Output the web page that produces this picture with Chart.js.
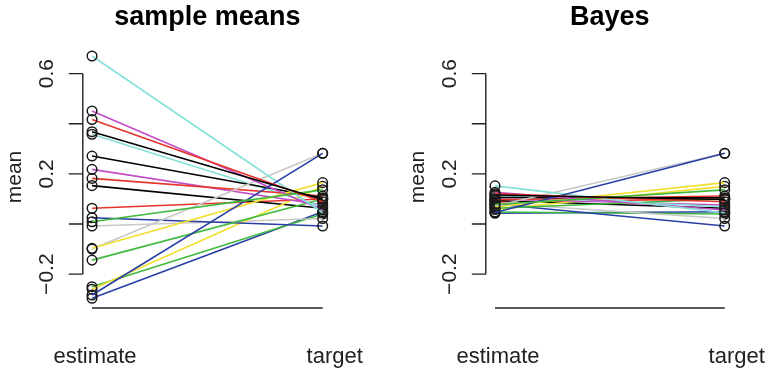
<!DOCTYPE html>
<html>
<head>
<meta charset="utf-8">
<script src="https://cdn.jsdelivr.net/npm/chart.js@4/dist/chart.umd.min.js"></script>
<style>
  html, body { margin: 0; padding: 0; background: #ffffff; }
  #wrap { position: relative; width: 769px; height: 375px; overflow: hidden; }
  canvas { position: absolute; top: 0; }
</style>
</head>
<body>
<div id="wrap">
  <canvas id="left" width="384" height="375" style="left:0px"></canvas>
  <canvas id="right" width="385" height="375" style="left:384px"></canvas>
</div>
<script>
// ---- data ----
const categories = ['estimate', 'target'];
const panelTitles = ['sample means', 'Bayes'];
const yAxisTitle = 'mean';
const yTicks = [-0.2, 0, 0.2, 0.4, 0.6];
const yTickLabels = ['\u22120.2', '', '0.2', '', '0.6'];
const seriesColors = ['#000000', '#e4342c', '#3fba3f', '#2a3fa6', '#86e0da', '#c24cc6', '#f0e030', '#c8c8c8'];

const sampleMeans = [0.368, 0.417, 0.009, -0.283, 0.670, 0.451, -0.097, -0.100, 0.271, 0.182,
                     -0.144, 0.025, 0.358, 0.218, -0.260, -0.008, 0.153, 0.063, -0.250, -0.296];
const bayesEstimates = [0.116, 0.120, 0.078, 0.046, 0.152, 0.126, 0.068, 0.072, 0.106, 0.097,
                        0.063, 0.080, 0.113, 0.100, 0.058, 0.083, 0.094, 0.088, 0.048, 0.043];
const targets = [0.098, 0.089, 0.136, 0.282, 0.045, 0.056, 0.165, 0.282, 0.105, 0.112,
                 0.100, -0.008, 0.069, 0.076, 0.150, 0.022, 0.063, 0.100, 0.040, 0.049];

// ---- drawing ----
function buildDatasets(est) {
  return est.map((v, i) => ({
    data: [{ x: 1, y: v }, { x: 2, y: targets[i] }],
    borderColor: seriesColors[i % seriesColors.length],
    borderWidth: 1.6,
    pointRadius: 4.8,
    pointHoverRadius: 4.8,
    pointBorderWidth: 1.5,
    pointBorderColor: '#1a1a1a',
    pointBackgroundColor: 'rgba(0,0,0,0)',
    tension: 0
  }));
}

const FONT = '"Liberation Sans", Arial, Helvetica, sans-serif';

const rAxesPlugin = {
  id: 'rAxes',
  afterDraw(chart, args, opts) {
    const ctx = chart.ctx;
    const xs = chart.scales.x, ys = chart.scales.y;
    const left = chart.chartArea.left, bottom = chart.chartArea.bottom;
    ctx.save();
    ctx.strokeStyle = '#222';
    ctx.fillStyle = '#222';
    ctx.lineWidth = 1.4;
    // y axis line from first to last tick
    const yTop = ys.getPixelForValue(yTicks[yTicks.length - 1]);
    const yBot = ys.getPixelForValue(yTicks[0]);
    ctx.beginPath();
    ctx.moveTo(left, yTop); ctx.lineTo(left, yBot);
    yTicks.forEach(t => {
      const py = ys.getPixelForValue(t);
      ctx.moveTo(left, py); ctx.lineTo(left - 14, py);
    });
    ctx.stroke();
    // tick labels rotated
    ctx.font = '21px ' + FONT;
    ctx.textAlign = 'center';
    ctx.textBaseline = 'middle';
    yTicks.forEach((t, i) => {
      if (!yTickLabels[i]) return;
      const py = ys.getPixelForValue(t);
      ctx.save();
      ctx.translate(left - 36, py);
      ctx.rotate(-Math.PI / 2);
      ctx.fillText(yTickLabels[i], 0, 0);
      ctx.restore();
    });
    // y title
    ctx.save();
    ctx.translate(left - 68, (chart.chartArea.top + bottom) / 2);
    ctx.rotate(-Math.PI / 2);
    ctx.fillText(yAxisTitle, 0, 0);
    ctx.restore();
    // x axis line from first to last category
    const x1 = xs.getPixelForValue(1), x2 = xs.getPixelForValue(2);
    ctx.beginPath();
    ctx.moveTo(x1, bottom); ctx.lineTo(x2, bottom);
    ctx.stroke();
    // x labels
    ctx.font = '22px ' + FONT;
    ctx.fillText(categories[0], x1 + 3, bottom + 49);
    ctx.fillText(categories[1], x2 + 12, bottom + 49);
    // title
    ctx.font = 'bold 27px ' + FONT;
    ctx.fillStyle = '#000';
    ctx.fillText(opts.title, (chart.chartArea.left + chart.chartArea.right) / 2, 18);
    ctx.restore();
  }
};

function makeChart(id, est, title, padL, padR) {
  return new Chart(document.getElementById(id), {
    type: 'line',
    data: { datasets: buildDatasets(est) },
    options: {
      responsive: false,
      animation: false,
      events: [],
      layout: { padding: { left: padL, right: padR, top: 46, bottom: 67 } },
      plugins: { legend: { display: false }, tooltip: { enabled: false }, title: { display: false },
                 rAxes: { title: title } },
      scales: {
        x: { type: 'linear', min: 0.96, max: 2.04, display: false },
        y: { type: 'linear', min: -0.335, max: 0.71, display: false }
      }
    },
    plugins: [rAxesPlugin]
  });
}

makeChart('left', sampleMeans, panelTitles[0], 82.8, 52.1);
makeChart('right', bayesEstimates, panelTitles[1], 101.8, 35.1);
</script>
</body>
</html>
